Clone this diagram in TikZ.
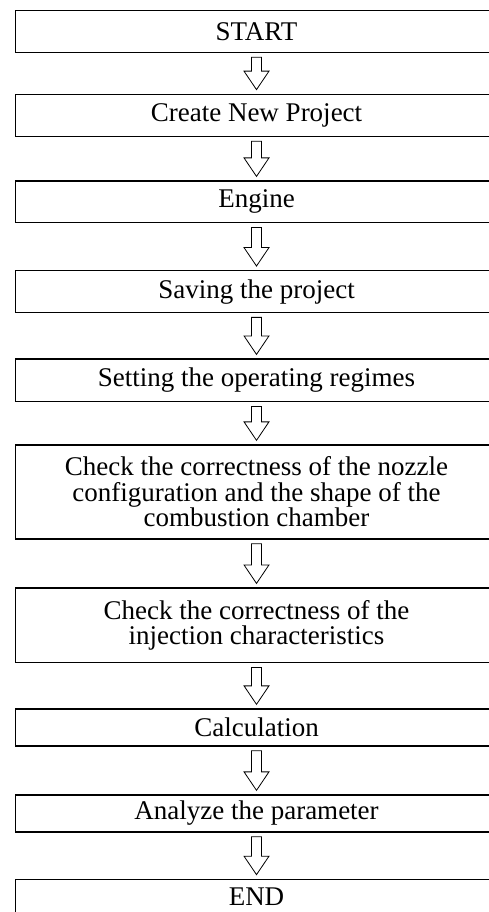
\documentclass[tikz,border=0pt]{standalone}
\usepackage{fontspec}
\setmainfont{Liberation Serif}
\usetikzlibrary{calc}
\tikzset{
  stepbox/.style={draw=black, line width=1.3pt, rectangle, minimum width=482pt, inner sep=0pt,
    align=center, font=\fontsize{27}{25.5}\selectfont},
  harrow/.style={draw=black, line width=0.8pt, fill=white, line join=miter},
}
\newcommand\hollowarrow[2]{%
  \draw[harrow] let \p1=(#1.south), \p2=(#2.north) in
    (\x1-5pt,\y1-4pt) -- (\x1-5pt,\y2+22.5pt) -- (\x1-12.5pt,\y2+22.5pt) --
    (\x1,\y2+4pt) -- (\x1+12.5pt,\y2+22.5pt) -- (\x1+5pt,\y2+22.5pt) --
    (\x1+5pt,\y1-4pt) -- cycle;}
\begin{document}
\begin{tikzpicture}[x=1pt,y=-1pt]
\useasboundingbox (0,0) rectangle (489,912);
\clip (0,0) rectangle (489,912);
\fill[white] (0,0) rectangle (489,912);
\node[stepbox, minimum height=42pt]   (n1)  at (256.5,31.7)  {START};
\node[stepbox, minimum height=42.4pt] (n2)  at (256.5,115.5) {Create New Project};
\node[stepbox, minimum height=41.7pt] (n3)  at (256.5,201.9) {Engine};
\node[stepbox, minimum height=42pt]   (n4)  at (256.5,291.7) {Saving the project};
\node[stepbox, minimum height=42.7pt] (n5)  at (256.5,380.4) {Setting the operating regimes};
\node[stepbox, minimum height=94pt]   (n6)  at (256.5,492)   {Check the correctness of the nozzle\\configuration and the shape of the\\combustion chamber};
\node[stepbox, minimum height=74.7pt] (n7)  at (256.5,625.4) {Check the correctness of the\\injection characteristics};
\node[stepbox, minimum height=37pt]   (n8)  at (256.5,727.5) {Calculation};
\node[stepbox, minimum height=37pt]   (n9)  at (256.5,813.5) {Analyze the parameter};
\node[stepbox, minimum height=34pt]   (n10) at (256.5,896.3) {END};
\hollowarrow{n1}{n2}
\hollowarrow{n2}{n3}
\hollowarrow{n3}{n4}
\hollowarrow{n4}{n5}
\hollowarrow{n5}{n6}
\hollowarrow{n6}{n7}
\hollowarrow{n7}{n8}
\hollowarrow{n8}{n9}
\hollowarrow{n9}{n10}
\end{tikzpicture}
\end{document}
